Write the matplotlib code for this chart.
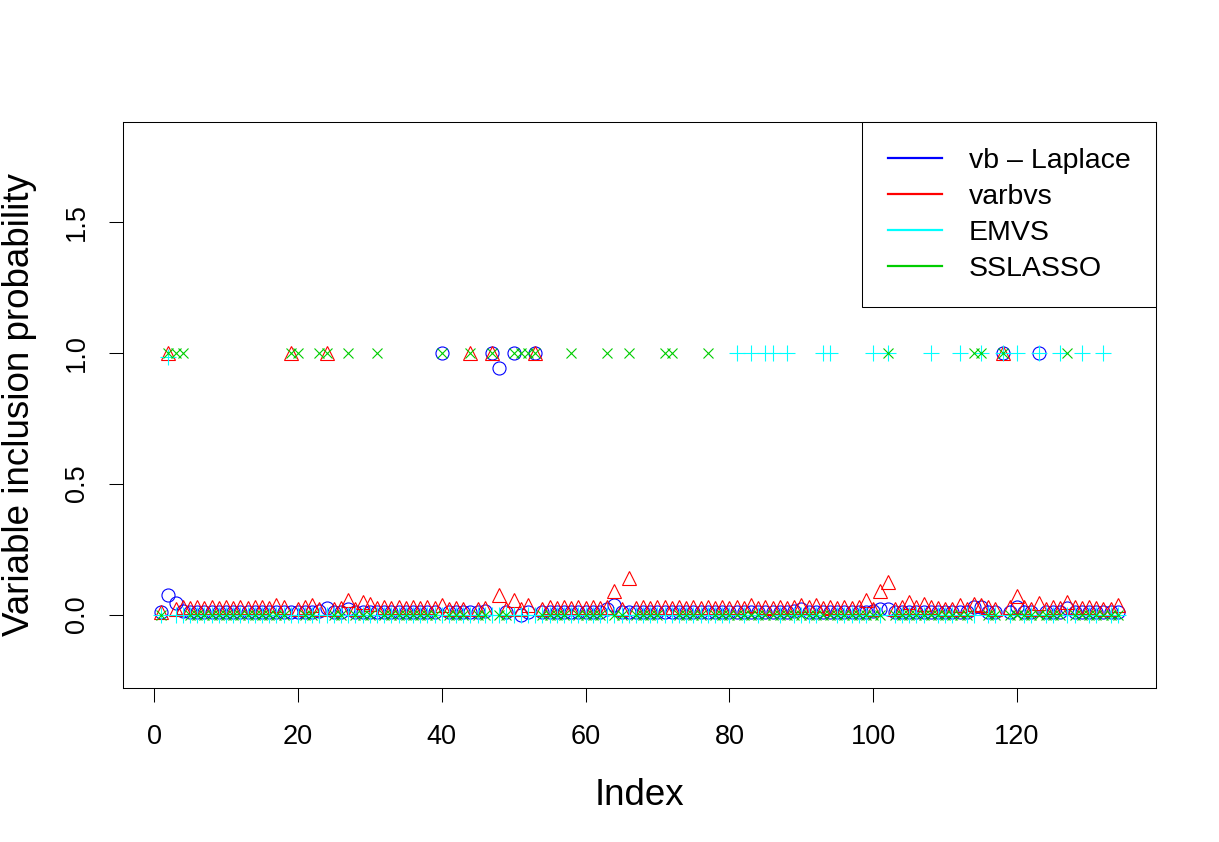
import matplotlib
matplotlib.use("Agg")
from matplotlib import pyplot as plt

plt.rcParams['font.family'] = ['Liberation Sans', 'DejaVu Sans']

# inclusion probabilities, variable 1..134
vb_laplace = [
    0.01, 0.075, 0.045, 0.015, 0.01, 0.01, 0.01, 0.01, 0.01, 0.01,
    0.01, 0.01, 0.01, 0.01, 0.01, 0.01, 0.01, 0.01, 0.01, 0.01,
    0.01, 0.01, 0.015, 0.025, 0.01, 0.01, 0.02, 0.01, 0.01, 0.01,
    0.01, 0.01, 0.01, 0.01, 0.01, 0.01, 0.01, 0.01, 0.01, 1.0,
    0.01, 0.01, 0.01, 0.01, 0.01, 0.015, 1.0, 0.94, 0.01, 1.0,
    0.0, 0.01, 1.0, 0.01, 0.01, 0.01, 0.01, 0.01, 0.01, 0.01,
    0.01, 0.01, 0.02, 0.035, 0.01, 0.01, 0.01, 0.01, 0.01, 0.01,
    0.01, 0.01, 0.01, 0.01, 0.01, 0.01, 0.01, 0.01, 0.01, 0.01,
    0.01, 0.01, 0.01, 0.01, 0.01, 0.01, 0.01, 0.01, 0.015, 0.02,
    0.01, 0.01, 0.01, 0.01, 0.01, 0.01, 0.01, 0.01, 0.01, 0.015,
    0.02, 0.02, 0.01, 0.01, 0.01, 0.01, 0.01, 0.01, 0.01, 0.01,
    0.01, 0.01, 0.01, 0.03, 0.03, 0.01, 0.01, 1.0, 0.01, 0.03,
    0.01, 0.01, 1.0, 0.01, 0.01, 0.01, 0.025, 0.01, 0.01, 0.01,
    0.01, 0.01, 0.01, 0.01,
]

varbvs = [
    0.01, 1.0, 0.02, 0.03, 0.025, 0.03, 0.025, 0.03, 0.025, 0.03,
    0.025, 0.03, 0.025, 0.03, 0.03, 0.025, 0.035, 0.03, 1.0, 0.02,
    0.03, 0.035, 0.02, 1.0, 0.02, 0.025, 0.055, 0.02, 0.05, 0.04,
    0.025, 0.03, 0.025, 0.03, 0.025, 0.03, 0.025, 0.03, 0.025, 0.035,
    0.02, 0.025, 0.02, 1.0, 0.02, 0.025, 1.0, 0.075, 0.02, 0.055,
    0.02, 0.035, 1.0, 0.02, 0.03, 0.025, 0.03, 0.025, 0.03, 0.025,
    0.03, 0.025, 0.03, 0.09, 0.02, 0.14, 0.025, 0.03, 0.025, 0.03,
    0.03, 0.025, 0.03, 0.025, 0.03, 0.025, 0.03, 0.025, 0.03, 0.025,
    0.03, 0.025, 0.035, 0.025, 0.03, 0.025, 0.03, 0.025, 0.03, 0.035,
    0.03, 0.035, 0.025, 0.03, 0.025, 0.03, 0.025, 0.03, 0.055, 0.02,
    0.09, 0.125, 0.02, 0.03, 0.05, 0.03, 0.04, 0.03, 0.025, 0.02,
    0.02, 0.035, 0.02, 0.04, 0.035, 0.03, 0.02, 1.0, 0.03, 0.07,
    0.03, 0.02, 0.045, 0.02, 0.03, 0.025, 0.05, 0.03, 0.025, 0.03,
    0.025, 0.02, 0.02, 0.035,
]

emvs = [
    0, 0.985, 0, 0, 0, 0, 0, 0, 0, 0,
    0, 0, 0, 0, 0, 0, 0, 0, 0, 0,
    0, 0, 0, 0, 0, 0, 0, 0, 0, 0,
    0, 0, 0, 0, 0, 0, 0, 0, 0, 0,
    0, 0, 0, 0, 0, 0, 0, 0, 0, 0,
    0, 0, 0, 0, 0, 0, 0, 0, 0, 0,
    0, 0, 0, 0, 0, 0, 0, 0, 0, 0,
    0, 0, 0, 0, 0, 0, 0, 0, 0, 0,
    1, 0, 1, 0, 1, 1, 0, 1, 0, 0,
    0, 0, 1, 1, 0, 0, 0, 0, 0, 1,
    0, 1, 0, 0, 0, 0, 0, 1, 0, 0,
    0, 1, 0, 0, 1, 0, 0, 1, 0, 1,
    0, 0, 1, 0, 0, 1, 0, 0, 1, 0,
    0, 1, 0, 0,
]

sslasso = [
    0, 1, 1, 1, 0, 0, 0, 0, 0, 0,
    0, 0, 0, 0, 0, 0, 0, 0, 1, 1,
    0, 0, 1, 1, 0, 0, 1, 0, 0, 0,
    1, 0, 0, 0, 0, 0, 0, 0, 0, 1,
    0, 0, 0, 1, 0, 0, 1, 0, 0, 1,
    1, 1, 1, 0, 0, 0, 0, 1, 0, 0,
    0, 0, 1, 0, 0, 1, 0, 0, 0, 0,
    1, 1, 0, 0, 0, 0, 1, 0, 0, 0,
    0, 0, 0, 0, 0, 0, 0, 0, 0, 0,
    0, 0, 0, 0, 0, 0, 0, 0, 0, 0,
    0, 1, 0, 0, 0, 0, 0, 0, 0, 0,
    0, 0, 0, 1, 1, 0, 0, 1, 0, 0,
    0, 0, 0, 0, 0, 0, 1, 0, 0, 0,
    0, 0, 0, 0,
]

labels = ["vb \u2013 Laplace", "varbvs", "EMVS", "SSLASSO"]
colors = ["#0000FF", "#FF0000", "#00FFFF", "#00CD00"]

idx = list(range(1, len(vb_laplace) + 1))

fig = plt.figure(figsize=(12.19, 8.42), dpi=100)
ax = fig.add_axes([123 / 1219, 1 - 688 / 842, (1156 - 123) / 1219, (688 - 122) / 842])

ax.plot(idx, vb_laplace, 'o', mfc='none', mec=colors[0], ms=9.4, mew=0.8, ls='none')
ax.plot(idx, varbvs, '^', mfc='none', mec=colors[1], ms=10, mew=0.8, ls='none')
ax.plot(idx, emvs, '+', mec=colors[2], ms=11.5, mew=0.8, ls='none')
ax.plot(idx, sslasso, 'x', mec=colors[3], ms=7, mew=0.8, ls='none')

ax.set_xlim(1 - 0.04 * 133, 134 + 0.04 * 133)
ax.set_ylim(-0.28, 1.88)
ax.set_xticks([0, 20, 40, 60, 80, 100, 120])
ax.set_yticks([0, 0.5, 1.0, 1.5])
ax.set_yticklabels(["0.0", "0.5", "1.0", "1.5"], rotation=90, va='center')
ax.tick_params(length=10, width=0.75, labelsize=19.5, pad=14)
ax.tick_params(axis='x', pad=16)
for s in ax.spines.values():
    s.set_linewidth(0.75)

ax.set_xlabel("Index", fontsize=26.5, labelpad=20)
ax.set_ylabel("Variable inclusion probability", fontsize=26.5, labelpad=19)

handles = [plt.Line2D([], [], color=c, lw=1.6) for c in colors]
leg = ax.legend(handles, labels, loc='upper right', bbox_to_anchor=(1, 1),
                borderaxespad=0, fontsize=20.5, frameon=True, fancybox=False,
                edgecolor='black', framealpha=1, handlelength=1.9,
                handletextpad=0.93, labelspacing=0.35, borderpad=0.9)
leg.get_frame().set_linewidth(0.75)

fig.savefig("out.png", dpi=100)
